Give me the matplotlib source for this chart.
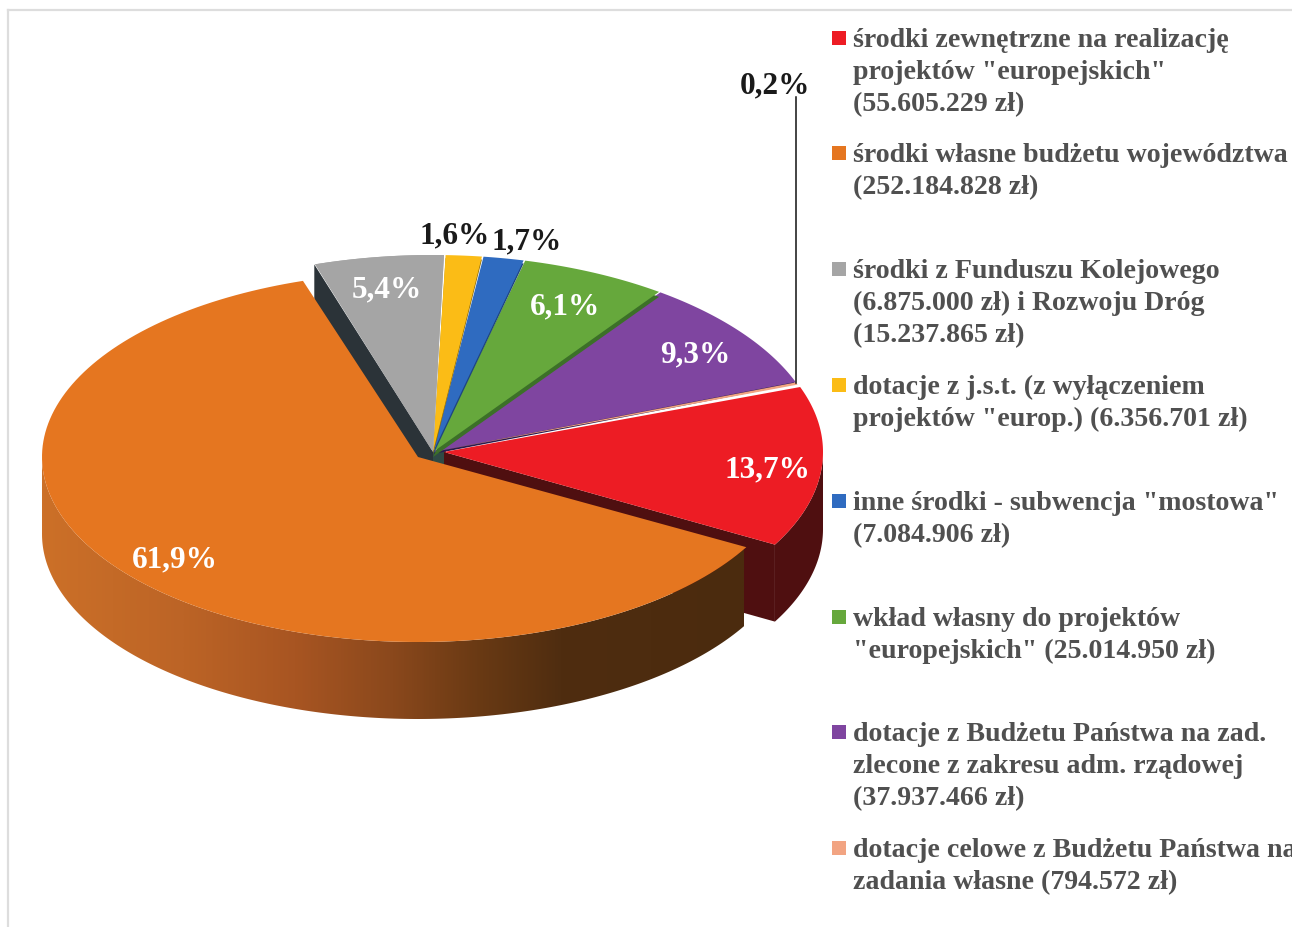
import numpy as np
import matplotlib
matplotlib.use("Agg")
import matplotlib.pyplot as plt
from matplotlib.colors import LinearSegmentedColormap
from matplotlib.patches import Polygon

plt.rcParams['font.family'] = ['Liberation Serif', 'DejaVu Serif']

W, H = 1292, 927
values = [55605229, 252184828, 22112865, 6356701, 7084906, 25014950, 37937466, 794572]
pct_labels = ['13,7%', '61,9%', '5,4%', '1,6%', '1,7%', '6,1%', '9,3%', '0,2%']
colors = ['#ED1C24', '#E57620', '#A5A5A5', '#FBBC16', '#2F6BC0', '#66A83C', '#7F45A0', '#F2A482']
dark = ['#4F0F10', '#4A2A0E', '#2B3338', '#8A6A08', '#1E4580', '#3C7028', '#2A1A50', '#7A5040']
legend_lines = [
    ['środki zewnętrzne na realizację', 'projektów "europejskich"', '(55.605.229 zł)'],
    ['środki własne budżetu województwa', '(252.184.828 zł)'],
    ['środki z Funduszu Kolejowego', '(6.875.000 zł) i Rozwoju Dróg', '(15.237.865 zł)'],
    ['dotacje z j.s.t. (z wyłączeniem', 'projektów "europ.) (6.356.701 zł)'],
    ['inne środki - subwencja "mostowa"', '(7.084.906 zł)'],
    ['wkład własny do projektów', '"europejskich" (25.014.950 zł)'],
    ['dotacje z Budżetu Państwa na zad.', 'zlecone z zakresu adm. rządowej', '(37.937.466 zł)'],
    ['dotacje celowe z Budżetu Państwa na', 'zadania własne (794.572 zł)'],
]

# layout (pixels)
legend_y0 = [37.5, 152.5, 268.5, 384.5, 500.5, 616.5, 731.5, 847.5]
legend_step = 32.2
label_pos = [(767, 470), (175, 560), (387, 290), (455, 236), (527, 242), (565, 307), (695, 355), (775, 86)]
label_col = ['white', 'white', 'white', '#1A1A1A', '#1A1A1A', 'white', 'white', '#1A1A1A']
geom = [(444, 452, 379, 190)] + [(418, 457, 376, 185)] + [(433, 452, 388, 197)] * 6
strip = [0, 0, 0, 3, 3, 5, 2, 0]
START = 20.0
DEPTH = 77

fig = plt.figure(figsize=(W / 100, H / 100), dpi=100)
ax = fig.add_axes([0, 0, 1, 1])

fr = np.array(values, dtype=float) / sum(values) * 360
ends = START - np.cumsum(fr)
starts = ends + fr


def pt(i, t):
    cx, cy, rx, ry = geom[i]
    t = np.radians(t)
    return np.column_stack([cx + rx * np.cos(t), cy - ry * np.sin(t)])


def top(i, gap=0.0):
    arc = pt(i, np.linspace(starts[i] - gap, ends[i] + gap, 160))
    return np.vstack([[geom[i][0], geom[i][1]], arc])


def poly(xy, c, z):
    ax.add_patch(Polygon(xy, closed=True, facecolor=c, edgecolor='none', linewidth=0, zorder=z))


# dark core where the slices meet
poly([(430, 450), (446, 450), (446, 470), (430, 470)], '#2F4A45', 0.5)

# back slices: small ones, each with a darker cut face
z = 1
for i in [6, 5, 4, 3, 2]:
    xy = top(i, 0.12)
    if strip[i]:
        poly(xy + [0, strip[i]], dark[i], z)
    poly(xy, colors[i], z + 0.5)
    z += 1
poly(top(7), colors[7], z)

# grey slice cut face (towards the orange slice)
a = np.array([geom[2][0], geom[2][1]])
b = pt(2, starts[2])[0]
poly([a, b, b + [0, DEPTH], a + [0, DEPTH]], dark[2], 8)
poly(top(2, 0.12), colors[2], 8.5)

# red slice
i = 0
arc = pt(i, np.linspace(0, ends[i], 80))
poly(np.vstack([arc, arc[::-1] + [0, DEPTH]]), dark[i], 9)
a = np.array([geom[i][0], geom[i][1]])
b = pt(i, ends[i])[0]
poly([a, b, b + [0, DEPTH], a + [0, DEPTH]], dark[i], 9.2)
poly(top(i), colors[i], 9.5)

# orange slice with shaded wall
i = 1
arc = pt(i, np.linspace(ends[i] + 223.0 - 223.0 + 0, -180, 2))
arc = pt(i, np.linspace(starts[i], -180, 200))
wall = Polygon(np.vstack([arc, arc[::-1] + [0, DEPTH]]), closed=True, transform=ax.transData,
               facecolor='none', edgecolor='none')
ax.add_patch(wall)
cmap = LinearSegmentedColormap.from_list('wall', [
    (0.00, '#CC7028'), (0.20, '#BC6426'), (0.36, '#A85522'), (0.50, '#8A481C'),
    (0.62, '#6A3A14'), (0.74, '#4F2D10'), (1.00, '#4B2B0E')])
im = ax.imshow(np.linspace(0, 1, 512)[None, :], cmap=cmap, extent=(42, 744, 730, 450),
               aspect='auto', zorder=10, interpolation='bilinear')
im.set_clip_path(wall)
poly(top(i), colors[i], 11)

# leader line
ax.plot([796, 796], [97, 383], color='#111111', lw=1.1, zorder=12)

# percentage labels
for s, (x, y), c in zip(pct_labels, label_pos, label_col):
    ax.text(x, y, s, color=c, fontsize=22.5, fontweight='bold', ha='center', va='center', zorder=13)

# legend
for lines, y0, c in zip(legend_lines, legend_y0, colors):
    ax.scatter([838.5], [y0], marker='s', s=108, color=c, linewidths=0, zorder=13)
    for k, s in enumerate(lines):
        ax.text(853, y0 + k * legend_step, s, color='#505050', fontsize=20.1, fontweight='bold',
                ha='left', va='center_baseline', zorder=13)

# frame remnants
ax.plot([8, W], [10, 10], color='#DDDDDD', lw=1.6, zorder=0)
ax.plot([8, 8], [10, H], color='#DDDDDD', lw=1.6, zorder=0)

ax.set_xlim(0, W)
ax.set_ylim(H, 0)
ax.axis('off')
fig.savefig('out.png', dpi=100)
